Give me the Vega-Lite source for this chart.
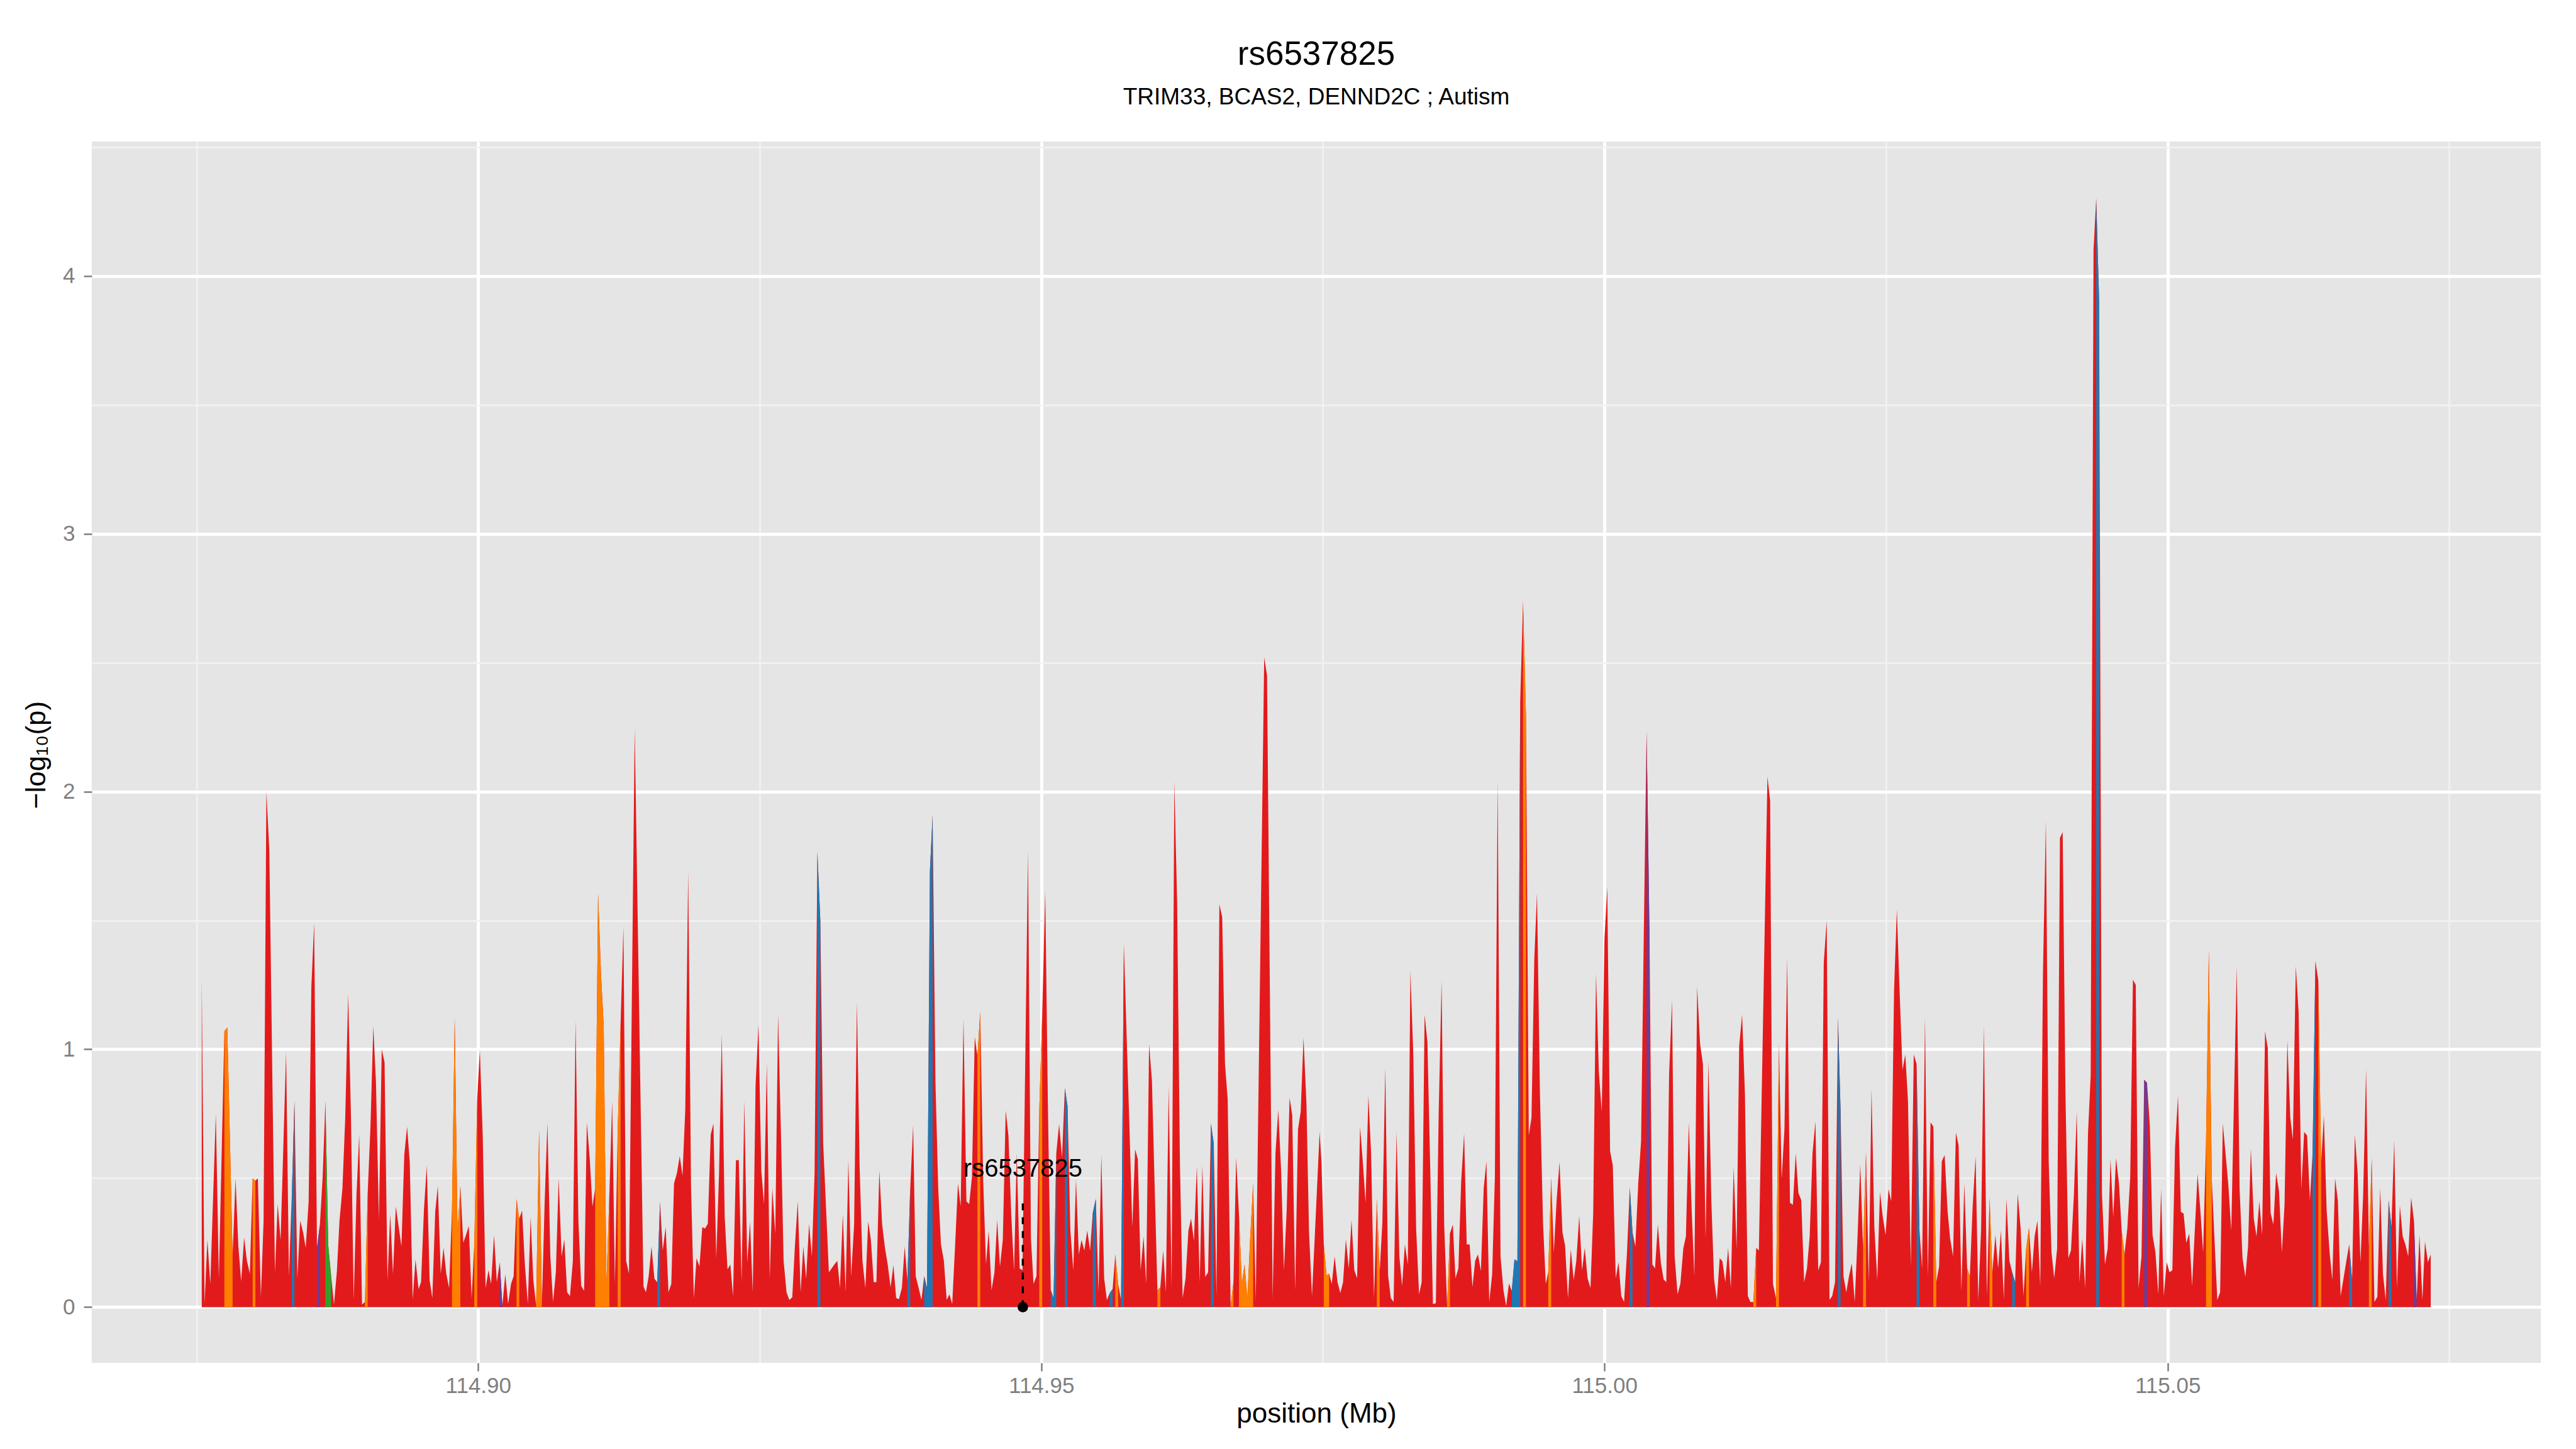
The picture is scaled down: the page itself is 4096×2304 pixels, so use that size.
{
"$schema": "https://vega.github.io/schema/vega-lite/v6.json",
"width": 3894, "height": 1942,
"autosize": {"type": "none"},
"padding": {"left": 146, "top": 225, "right": 56, "bottom": 137},
"background": "white",
"config": {"view": {"fill": "#E5E5E5", "stroke": null}, "font": "Liberation Sans"},
"title": {"text": "rs6537825", "subtitle": "TRIM33, BCAS2, DENND2C ; Autism", "fontSize": 53, "fontWeight": "normal", "color": "black", "subtitleFontSize": 37, "subtitleColor": "black", "subtitleFont": "Liberation Sans", "font": "Liberation Sans", "anchor": "middle", "offset": 52, "subtitlePadding": 23},
"datasets": {
"snp": [
{"pos":114.87546,"y":1.27},{"pos":114.87571,"y":0.015},{"pos":114.87596,"y":0.26},{"pos":114.87622,"y":0.09},{"pos":114.87671,"y":0.75},{"pos":114.87698,"y":0.11},{"pos":114.87747,"y":1.07},{"pos":114.87773,"y":1.085},{"pos":114.8782,"y":0.2},{"pos":114.87846,"y":0.5},{"pos":114.87871,"y":0.235},{"pos":114.87896,"y":0.1},{"pos":114.87922,"y":0.27},{"pos":114.87947,"y":0.18},{"pos":114.87973,"y":0.13},{"pos":114.87998,"y":0.5},{"pos":114.88022,"y":0.49},{"pos":114.88044,"y":0.5},{"pos":114.88071,"y":0.04},{"pos":114.88095,"y":0.335},{"pos":114.8812,"y":2.0},{"pos":114.88146,"y":1.77},{"pos":114.88196,"y":0.135},{"pos":114.8822,"y":0.4},{"pos":114.88246,"y":0.26},{"pos":114.88295,"y":0.99},{"pos":114.8832,"y":0.12},{"pos":114.88346,"y":0.44},{"pos":114.88369,"y":0.8},{"pos":114.88395,"y":0.11},{"pos":114.8842,"y":0.335},{"pos":114.88446,"y":0.29},{"pos":114.88469,"y":0.23},{"pos":114.88495,"y":0.41},{"pos":114.88519,"y":1.24},{"pos":114.88544,"y":1.49},{"pos":114.88569,"y":0.23},{"pos":114.88595,"y":0.32},{"pos":114.88619,"y":0.5},{"pos":114.88644,"y":0.8},{"pos":114.88669,"y":0.24},{"pos":114.88695,"y":0.12},{"pos":114.8872,"y":0.01},{"pos":114.88746,"y":0.14},{"pos":114.88769,"y":0.335},{"pos":114.88795,"y":0.46},{"pos":114.8882,"y":0.735},{"pos":114.88846,"y":1.215},{"pos":114.88871,"y":0.735},{"pos":114.88895,"y":0.03},{"pos":114.8892,"y":0.435},{"pos":114.88944,"y":0.67},{"pos":114.88969,"y":0.01},{"pos":114.88995,"y":0.02},{"pos":114.89019,"y":0.44},{"pos":114.89044,"y":0.7},{"pos":114.89069,"y":1.09},{"pos":114.89093,"y":0.87},{"pos":114.89119,"y":0.34},{"pos":114.89144,"y":1.0},{"pos":114.89169,"y":0.95},{"pos":114.89195,"y":0.105},{"pos":114.89219,"y":0.36},{"pos":114.89244,"y":0.13},{"pos":114.89269,"y":0.39},{"pos":114.89319,"y":0.235},{"pos":114.89344,"y":0.59},{"pos":114.89369,"y":0.7},{"pos":114.89393,"y":0.56},{"pos":114.89419,"y":0.03},{"pos":114.89444,"y":0.185},{"pos":114.89471,"y":0.07},
{"pos":114.89493,"y":0.097},{"pos":114.89519,"y":0.38},{"pos":114.89544,"y":0.55},{"pos":114.89569,"y":0.105},{"pos":114.89593,"y":0.035},{"pos":114.89619,"y":0.37},{"pos":114.89642,"y":0.47},{"pos":114.89668,"y":0.13},{"pos":114.89693,"y":0.23},{"pos":114.89717,"y":0.13},{"pos":114.89742,"y":0.074},{"pos":114.89768,"y":0.38},{"pos":114.89792,"y":1.12},{"pos":114.89817,"y":0.29},{"pos":114.89842,"y":0.47},{"pos":114.89868,"y":0.25},{"pos":114.89892,"y":0.28},{"pos":114.89917,"y":0.315},{"pos":114.89942,"y":0.035},{"pos":114.89966,"y":0.25},{"pos":114.89992,"y":0.81},{"pos":114.90015,"y":1.0},{"pos":114.90041,"y":0.66},{"pos":114.90066,"y":0.074},{"pos":114.90092,"y":0.143},{"pos":114.90115,"y":0.09},{"pos":114.90141,"y":0.28},{"pos":114.90166,"y":0.097},{"pos":114.90192,"y":0.174},{"pos":114.90215,"y":0.005},{"pos":114.90241,"y":0.128},{"pos":114.90266,"y":0.012},{"pos":114.90292,"y":0.09},{"pos":114.90315,"y":0.12},{"pos":114.90341,"y":0.42},{"pos":114.90365,"y":0.343},{"pos":114.9039,"y":0.374},{"pos":114.90415,"y":0.166},{"pos":114.90441,"y":0.012},{"pos":114.90466,"y":0.35},{"pos":114.9049,"y":0.105},{"pos":114.90515,"y":0.005},{"pos":114.90541,"y":0.686},{"pos":114.90566,"y":0.012},{"pos":114.9059,"y":0.4},{"pos":114.90615,"y":0.715},{"pos":114.90641,"y":0.197},{"pos":114.90665,"y":0.02},{"pos":114.9069,"y":0.135},{"pos":114.90715,"y":0.5},{"pos":114.90741,"y":0.197},{"pos":114.90765,"y":0.263},{"pos":114.9079,"y":0.058},{"pos":114.90815,"y":0.043},{"pos":114.90841,"y":0.18},{"pos":114.90865,"y":1.112},{"pos":114.9089,"y":0.335},{"pos":114.90915,"y":0.082},{"pos":114.90941,"y":0.063},{"pos":114.90965,"y":0.717},{"pos":114.9099,"y":0.58},{"pos":114.91015,"y":0.39},{"pos":114.91039,"y":0.46},{"pos":114.91065,"y":1.605},{"pos":114.9109,"y":1.3},{"pos":114.91115,"y":1.09},{"pos":114.91139,"y":0.09},{"pos":114.91165,"y":0.435},{"pos":114.9119,"y":0.8},{"pos":114.91214,"y":0.09},{"pos":114.91239,"y":0.686},{"pos":114.91265,"y":1.105},{"pos":114.9129,"y":1.474},{"pos":114.91314,"y":0.18},{"pos":114.91339,"y":0.13},{"pos":114.9139,"y":2.246},{"pos":114.91468,"y":0.08},
{"pos":114.9149,"y":0.058},{"pos":114.91514,"y":0.12},{"pos":114.91539,"y":0.235},{"pos":114.91565,"y":0.11},{"pos":114.9159,"y":0.097},{"pos":114.91615,"y":0.41},{"pos":114.91639,"y":0.22},{"pos":114.91665,"y":0.31},{"pos":114.9169,"y":0.058},{"pos":114.91715,"y":0.09},{"pos":114.91739,"y":0.48},{"pos":114.91765,"y":0.52},{"pos":114.9179,"y":0.586},{"pos":114.91814,"y":0.51},{"pos":114.91839,"y":0.766},{"pos":114.91865,"y":1.69},{"pos":114.9189,"y":0.47},{"pos":114.91915,"y":0.035},{"pos":114.91939,"y":0.19},{"pos":114.91965,"y":0.158},{"pos":114.9199,"y":0.31},{"pos":114.92014,"y":0.305},{"pos":114.92039,"y":0.323},{"pos":114.92065,"y":0.67},{"pos":114.92089,"y":0.712},{"pos":114.92114,"y":0.19},{"pos":114.92139,"y":0.52},{"pos":114.92163,"y":1.058},{"pos":114.92189,"y":0.35},{"pos":114.92214,"y":0.146},{"pos":114.92239,"y":0.166},{"pos":114.92263,"y":0.043},{"pos":114.92289,"y":0.57},{"pos":114.92314,"y":0.57},{"pos":114.92339,"y":0.097},{"pos":114.92363,"y":0.8},{"pos":114.92389,"y":0.174},{"pos":114.92414,"y":0.33},{"pos":114.92438,"y":0.058},{"pos":114.92463,"y":0.86},{"pos":114.92489,"y":1.097},{"pos":114.92514,"y":0.53},{"pos":114.92538,"y":0.4},{"pos":114.92563,"y":0.946},{"pos":114.92589,"y":0.11},{"pos":114.92612,"y":0.46},{"pos":114.92638,"y":0.286},{"pos":114.92663,"y":1.135},{"pos":114.92689,"y":0.66},{"pos":114.92712,"y":0.18},{"pos":114.92738,"y":0.058},{"pos":114.92763,"y":0.028},{"pos":114.92789,"y":0.038},{"pos":114.92812,"y":0.235},{"pos":114.92838,"y":0.41},{"pos":114.92863,"y":0.058},{"pos":114.92887,"y":0.235},{"pos":114.92912,"y":0.11},{"pos":114.92938,"y":0.323},{"pos":114.92963,"y":0.197},{"pos":114.92987,"y":0.52},{"pos":114.93012,"y":1.766},{"pos":114.93038,"y":1.5},{"pos":114.93063,"y":0.64},{"pos":114.93114,"y":0.135},{"pos":114.93138,"y":0.15},{"pos":114.93163,"y":0.166},{"pos":114.93189,"y":0.18},{"pos":114.93212,"y":0.074},{"pos":114.93238,"y":0.36},{"pos":114.93263,"y":0.058},{"pos":114.93287,"y":0.57},{"pos":114.93312,"y":0.12},{"pos":114.93338,"y":0.32},{"pos":114.93363,"y":1.185},{"pos":114.93387,"y":0.543},{"pos":114.93412,"y":0.18},{"pos":114.93438,"y":0.074},{"pos":114.93463,"y":0.332},
{"pos":114.93487,"y":0.26},{"pos":114.93512,"y":0.097},{"pos":114.93536,"y":0.097},{"pos":114.93562,"y":0.53},{"pos":114.93587,"y":0.32},{"pos":114.93612,"y":0.23},{"pos":114.93636,"y":0.166},{"pos":114.93662,"y":0.077},{"pos":114.93687,"y":0.163},{"pos":114.93711,"y":0.035},{"pos":114.93736,"y":0.031},{"pos":114.93762,"y":0.074},{"pos":114.93787,"y":0.235},{"pos":114.93811,"y":0.105},{"pos":114.93836,"y":0.458},{"pos":114.93862,"y":0.705},{"pos":114.93885,"y":0.12},{"pos":114.93911,"y":0.074},{"pos":114.93936,"y":0.028},{"pos":114.9396,"y":0.12},{"pos":114.93985,"y":0.074},{"pos":114.94011,"y":1.69},{"pos":114.94035,"y":1.91},{"pos":114.9406,"y":0.874},{"pos":114.94085,"y":0.458},{"pos":114.94109,"y":0.243},{"pos":114.94135,"y":0.18},{"pos":114.9416,"y":0.028},{"pos":114.94184,"y":0.05},{"pos":114.94209,"y":0.012},{"pos":114.94235,"y":0.243},{"pos":114.9426,"y":0.48},{"pos":114.94284,"y":0.39},{"pos":114.94309,"y":1.12},{"pos":114.94335,"y":0.41},{"pos":114.9436,"y":0.4},{"pos":114.94384,"y":0.505},{"pos":114.94409,"y":1.048},{"pos":114.94433,"y":0.974},{"pos":114.94458,"y":1.146},{"pos":114.94484,"y":0.49},{"pos":114.94509,"y":0.166},{"pos":114.94533,"y":0.297},{"pos":114.94558,"y":0.066},{"pos":114.94584,"y":0.135},{"pos":114.94608,"y":0.338},{"pos":114.94633,"y":0.158},{"pos":114.94658,"y":0.26},{"pos":114.94684,"y":0.763},{"pos":114.94708,"y":0.666},{"pos":114.94733,"y":0.36},{"pos":114.94758,"y":0.143},{"pos":114.94782,"y":0.597},{"pos":114.94808,"y":0.15},{"pos":114.94833,"y":0.143},{"pos":114.94882,"y":1.77},{"pos":114.94908,"y":0.266},{"pos":114.94931,"y":0.09},{"pos":114.94957,"y":0.12},{"pos":114.94982,"y":0.766},{"pos":114.95008,"y":1.135},{"pos":114.95035,"y":1.612},{"pos":114.95058,"y":0.8},{"pos":114.95084,"y":0.066},{"pos":114.95109,"y":0.035},{"pos":114.95133,"y":0.597},{"pos":114.95158,"y":0.71},{"pos":114.95184,"y":0.58},{"pos":114.95209,"y":0.85},{"pos":114.95233,"y":0.78},{"pos":114.95258,"y":0.297},{"pos":114.95284,"y":0.143},{"pos":114.95308,"y":0.497},{"pos":114.95333,"y":0.205},{"pos":114.95357,"y":0.26},{"pos":114.95382,"y":0.22},{"pos":114.95408,"y":0.297},{"pos":114.95433,"y":0.22},{"pos":114.95457,"y":0.366},
{"pos":114.95484,"y":0.42},{"pos":114.95508,"y":0.058},{"pos":114.95533,"y":0.59},{"pos":114.95558,"y":0.112},{"pos":114.95582,"y":0.028},{"pos":114.95608,"y":0.055},{"pos":114.95633,"y":0.07},{"pos":114.95657,"y":0.205},{"pos":114.95682,"y":0.09},{"pos":114.95708,"y":0.028},{"pos":114.95733,"y":1.41},{"pos":114.95757,"y":1.058},{"pos":114.95782,"y":0.705},{"pos":114.95808,"y":0.312},{"pos":114.95833,"y":0.612},{"pos":114.95857,"y":0.574},{"pos":114.95882,"y":0.143},{"pos":114.95908,"y":0.274},{"pos":114.95931,"y":0.09},{"pos":114.95957,"y":1.02},{"pos":114.95982,"y":0.88},{"pos":114.96008,"y":0.443},{"pos":114.96031,"y":0.066},{"pos":114.96057,"y":0.077},{"pos":114.96082,"y":0.22},{"pos":114.96106,"y":0.058},{"pos":114.96131,"y":0.858},{"pos":114.96157,"y":0.077},{"pos":114.96181,"y":2.04},{"pos":114.96206,"y":1.566},{"pos":114.96231,"y":0.55},{"pos":114.96255,"y":0.035},{"pos":114.96281,"y":0.112},{"pos":114.96306,"y":0.297},{"pos":114.9633,"y":0.343},{"pos":114.96355,"y":0.258},{"pos":114.96381,"y":0.546},{"pos":114.96406,"y":0.097},{"pos":114.9643,"y":0.55},{"pos":114.96455,"y":0.117},{"pos":114.96481,"y":0.135},{"pos":114.96506,"y":0.712},{"pos":114.96531,"y":0.635},{"pos":114.96555,"y":0.043},{"pos":114.96581,"y":1.563},{"pos":114.96606,"y":1.512},{"pos":114.96631,"y":0.943},{"pos":114.96655,"y":0.805},{"pos":114.96681,"y":0.005},{"pos":114.96706,"y":0.097},{"pos":114.9673,"y":0.58},{"pos":114.96755,"y":0.358},{"pos":114.96781,"y":0.09},{"pos":114.96804,"y":0.166},{"pos":114.9683,"y":0.035},{"pos":114.96855,"y":0.274},{"pos":114.96881,"y":0.48},{"pos":114.96904,"y":0.028},{"pos":114.96979,"y":2.52},{"pos":114.97004,"y":2.45},{"pos":114.97054,"y":0.035},{"pos":114.97079,"y":0.597},{"pos":114.97104,"y":0.766},{"pos":114.9713,"y":0.52},{"pos":114.97154,"y":0.143},{"pos":114.97179,"y":0.38},{"pos":114.97204,"y":0.812},{"pos":114.97228,"y":0.743},{"pos":114.97254,"y":0.066},{"pos":114.97279,"y":0.69},{"pos":114.97303,"y":0.758},{"pos":114.97328,"y":1.046},{"pos":114.97354,"y":0.79},{"pos":114.97377,"y":0.29},{"pos":114.97403,"y":0.043},{"pos":114.97428,"y":0.274},
{"pos":114.97471,"y":0.68},{"pos":114.97487,"y":0.566},{"pos":114.97508,"y":0.243},{"pos":114.97533,"y":0.123},{"pos":114.97555,"y":0.13},{"pos":114.97579,"y":0.09},{"pos":114.97604,"y":0.197},{"pos":114.9763,"y":0.097},{"pos":114.97655,"y":0.055},{"pos":114.97679,"y":0.097},{"pos":114.97704,"y":0.263},{"pos":114.9773,"y":0.15},{"pos":114.97754,"y":0.338},{"pos":114.97779,"y":0.143},{"pos":114.97804,"y":0.112},{"pos":114.9783,"y":0.7},{"pos":114.97854,"y":0.566},{"pos":114.97879,"y":0.405},{"pos":114.97904,"y":0.82},{"pos":114.97928,"y":0.597},{"pos":114.97954,"y":0.035},{"pos":114.97979,"y":0.42},{"pos":114.98004,"y":0.135},{"pos":114.98028,"y":0.328},{"pos":114.98054,"y":0.93},{"pos":114.98079,"y":0.123},{"pos":114.98103,"y":0.035},{"pos":114.98128,"y":0.02},{"pos":114.98154,"y":0.68},{"pos":114.98179,"y":0.197},{"pos":114.98203,"y":0.082},{"pos":114.98228,"y":0.243},{"pos":114.98254,"y":0.166},{"pos":114.98277,"y":1.305},{"pos":114.98303,"y":0.974},{"pos":114.98328,"y":0.305},{"pos":114.98354,"y":0.05},{"pos":114.98377,"y":0.097},{"pos":114.98403,"y":1.135},{"pos":114.98428,"y":1.028},{"pos":114.98454,"y":0.52},{"pos":114.98477,"y":0.012},{"pos":114.98503,"y":0.015},{"pos":114.98528,"y":0.75},{"pos":114.98554,"y":1.266},{"pos":114.98577,"y":0.32},{"pos":114.98603,"y":0.005},{"pos":114.98628,"y":0.286},{"pos":114.98654,"y":0.32},{"pos":114.98677,"y":0.112},{"pos":114.98703,"y":0.15},{"pos":114.98728,"y":0.49},{"pos":114.98754,"y":0.674},{"pos":114.98777,"y":0.243},{"pos":114.98803,"y":0.243},{"pos":114.98828,"y":0.078},{"pos":114.98852,"y":0.18},{"pos":114.98877,"y":0.205},{"pos":114.98903,"y":0.14},{"pos":114.98928,"y":0.463},{"pos":114.98952,"y":0.566},{"pos":114.98977,"y":0.02},{"pos":114.99003,"y":0.128},{"pos":114.99027,"y":0.505},{"pos":114.99052,"y":2.046},{"pos":114.99077,"y":0.197},{"pos":114.99103,"y":0.066},{"pos":114.99127,"y":0.005},{"pos":114.99152,"y":0.092},{"pos":114.99177,"y":0.063},{"pos":114.99201,"y":0.186},{"pos":114.99227,"y":0.178},{"pos":114.99252,"y":2.35},{"pos":114.99277,"y":2.74},{"pos":114.99303,"y":2.3},{"pos":114.99328,"y":0.666},{"pos":114.99352,"y":0.735},{"pos":114.99377,"y":1.35},{"pos":114.99401,"y":1.605},{"pos":114.99427,"y":0.83},{"pos":114.99455,"y":0.32},
{"pos":114.99479,"y":0.09},{"pos":114.99501,"y":0.135},{"pos":114.99527,"y":0.505},{"pos":114.9955,"y":0.212},{"pos":114.99576,"y":0.42},{"pos":114.99601,"y":0.563},{"pos":114.99627,"y":0.29},{"pos":114.9965,"y":0.24},{"pos":114.99676,"y":0.035},{"pos":114.99701,"y":0.225},{"pos":114.99727,"y":0.105},{"pos":114.9975,"y":0.18},{"pos":114.99776,"y":0.354},{"pos":114.99801,"y":0.143},{"pos":114.99825,"y":0.23},{"pos":114.9985,"y":0.112},{"pos":114.99876,"y":0.074},{"pos":114.999,"y":0.366},{"pos":114.99925,"y":1.294},{"pos":114.9995,"y":0.912},{"pos":114.99976,"y":0.758},{"pos":115.0,"y":1.428},{"pos":115.00025,"y":1.63},{"pos":115.0005,"y":0.605},{"pos":115.00074,"y":0.55},{"pos":115.001,"y":0.112},{"pos":115.00125,"y":0.174},{"pos":115.00149,"y":0.043},{"pos":115.00174,"y":0.02},{"pos":115.002,"y":0.212},{"pos":115.00225,"y":0.466},{"pos":115.00249,"y":0.29},{"pos":115.00274,"y":0.235},{"pos":115.003,"y":0.48},{"pos":115.00325,"y":0.643},{"pos":115.00349,"y":1.44},{"pos":115.00374,"y":2.235},{"pos":115.004,"y":1.44},{"pos":115.00425,"y":0.166},{"pos":115.00449,"y":0.15},{"pos":115.00474,"y":0.32},{"pos":115.005,"y":0.174},{"pos":115.00525,"y":0.108},{"pos":115.00549,"y":0.097},{"pos":115.00574,"y":0.905},{"pos":115.006,"y":1.19},{"pos":115.00623,"y":0.197},{"pos":115.00649,"y":0.05},{"pos":115.00674,"y":0.09},{"pos":115.007,"y":0.228},{"pos":115.00723,"y":0.274},{"pos":115.00749,"y":0.717},{"pos":115.00774,"y":0.38},{"pos":115.00798,"y":0.12},{"pos":115.00823,"y":1.243},{"pos":115.00849,"y":1.02},{"pos":115.00874,"y":0.943},{"pos":115.00898,"y":0.266},{"pos":115.00923,"y":0.958},{"pos":115.00949,"y":0.41},{"pos":115.00973,"y":0.108},{"pos":115.00998,"y":0.028},{"pos":115.01023,"y":0.19},{"pos":115.01047,"y":0.178},{"pos":115.01073,"y":0.097},{"pos":115.01098,"y":0.23},{"pos":115.01122,"y":0.074},{"pos":115.01147,"y":0.543},{"pos":115.01173,"y":0.225},{"pos":115.01196,"y":1.012},{"pos":115.01222,"y":1.135},{"pos":115.01247,"y":0.828},{"pos":115.01273,"y":0.043},{"pos":115.01296,"y":0.02},{"pos":115.01322,"y":0.02},{"pos":115.01347,"y":0.23},{"pos":115.01371,"y":0.22},{"pos":115.01447,"y":2.058},{"pos":115.01471,"y":1.963},
{"pos":115.01496,"y":0.09},{"pos":115.01523,"y":0.035},{"pos":115.01549,"y":1.02},{"pos":115.01573,"y":0.497},{"pos":115.01598,"y":0.69},{"pos":115.01622,"y":1.354},{"pos":115.01647,"y":0.405},{"pos":115.01673,"y":0.397},{"pos":115.01698,"y":0.597},{"pos":115.01722,"y":0.443},{"pos":115.01747,"y":0.415},{"pos":115.01773,"y":0.097},{"pos":115.01798,"y":0.15},{"pos":115.01822,"y":0.274},{"pos":115.01847,"y":0.597},{"pos":115.01873,"y":0.72},{"pos":115.01898,"y":0.143},{"pos":115.01922,"y":0.174},{"pos":115.01947,"y":1.335},{"pos":115.01973,"y":1.5},{"pos":115.01998,"y":0.028},{"pos":115.02022,"y":0.043},{"pos":115.02047,"y":0.097},{"pos":115.02073,"y":1.123},{"pos":115.02096,"y":0.766},{"pos":115.02122,"y":0.12},{"pos":115.02147,"y":0.058},{"pos":115.02171,"y":0.12},{"pos":115.02196,"y":0.17},{"pos":115.02222,"y":0.02},{"pos":115.02247,"y":0.274},{"pos":115.02271,"y":0.554},{"pos":115.02296,"y":0.228},{"pos":115.02322,"y":0.6},{"pos":115.02347,"y":0.097},{"pos":115.02371,"y":0.846},{"pos":115.02396,"y":0.312},{"pos":115.02422,"y":0.105},{"pos":115.02446,"y":0.446},{"pos":115.02471,"y":0.35},{"pos":115.02496,"y":0.28},{"pos":115.02522,"y":0.458},{"pos":115.02546,"y":0.41},{"pos":115.02571,"y":1.228},{"pos":115.02596,"y":1.543},{"pos":115.0262,"y":1.228},{"pos":115.02646,"y":0.92},{"pos":115.02671,"y":0.98},{"pos":115.02695,"y":0.797},{"pos":115.0272,"y":0.158},{"pos":115.02746,"y":0.98},{"pos":115.02771,"y":0.943},{"pos":115.02796,"y":0.305},{"pos":115.0282,"y":0.15},{"pos":115.02846,"y":1.125},{"pos":115.02871,"y":0.12},{"pos":115.02895,"y":0.717},{"pos":115.0292,"y":0.7},{"pos":115.02946,"y":0.097},{"pos":115.02971,"y":0.158},{"pos":115.02995,"y":0.566},{"pos":115.0302,"y":0.59},{"pos":115.03046,"y":0.374},{"pos":115.03069,"y":0.266},{"pos":115.03095,"y":0.197},{"pos":115.0312,"y":0.677},{"pos":115.03144,"y":0.628},{"pos":115.03169,"y":0.063},{"pos":115.03195,"y":0.48},{"pos":115.0322,"y":0.15},{"pos":115.03244,"y":0.12},{"pos":115.03269,"y":0.39},{"pos":115.03295,"y":0.585},{"pos":115.03319,"y":0.028},{"pos":115.03344,"y":0.305},{"pos":115.03369,"y":1.092},{"pos":115.03395,"y":0.043},{"pos":115.03419,"y":0.425},{"pos":115.03444,"y":0.135},{"pos":115.03471,"y":0.28},
{"pos":115.03495,"y":0.15},{"pos":115.0352,"y":0.297},{"pos":115.03546,"y":0.031},{"pos":115.03569,"y":0.42},{"pos":115.03595,"y":0.18},{"pos":115.0362,"y":0.135},{"pos":115.03646,"y":0.097},{"pos":115.03669,"y":0.44},{"pos":115.03695,"y":0.305},{"pos":115.0372,"y":0.043},{"pos":115.03744,"y":0.228},{"pos":115.03769,"y":0.308},{"pos":115.03795,"y":0.135},{"pos":115.03819,"y":0.274},{"pos":115.03844,"y":0.335},{"pos":115.03869,"y":0.082},{"pos":115.03893,"y":1.29},{"pos":115.03919,"y":1.886},{"pos":115.03944,"y":0.566},{"pos":115.03969,"y":0.212},{"pos":115.03993,"y":0.112},{"pos":115.04019,"y":0.228},{"pos":115.04044,"y":1.82},{"pos":115.04068,"y":1.843},{"pos":115.04093,"y":0.828},{"pos":115.04119,"y":0.19},{"pos":115.04142,"y":0.22},{"pos":115.04168,"y":0.435},{"pos":115.04193,"y":0.758},{"pos":115.04217,"y":0.097},{"pos":115.04242,"y":0.266},{"pos":115.04268,"y":0.074},{"pos":115.04293,"y":0.674},{"pos":115.04317,"y":0.9},{"pos":115.04342,"y":4.1},{"pos":115.04366,"y":4.3},{"pos":115.04392,"y":3.9},{"pos":115.04417,"y":0.44},{"pos":115.04444,"y":0.166},{"pos":115.04468,"y":0.228},{"pos":115.04493,"y":0.574},{"pos":115.04517,"y":0.35},{"pos":115.04542,"y":0.578},{"pos":115.04568,"y":0.48},{"pos":115.04592,"y":0.297},{"pos":115.04617,"y":0.205},{"pos":115.04642,"y":0.305},{"pos":115.04668,"y":0.505},{"pos":115.04692,"y":1.27},{"pos":115.04717,"y":1.25},{"pos":115.04742,"y":0.074},{"pos":115.04768,"y":0.197},{"pos":115.04792,"y":0.882},{"pos":115.04817,"y":0.87},{"pos":115.04842,"y":0.705},{"pos":115.04866,"y":0.28},{"pos":115.04892,"y":0.212},{"pos":115.04917,"y":0.05},{"pos":115.04942,"y":0.458},{"pos":115.04966,"y":0.043},{"pos":115.04992,"y":0.174},{"pos":115.05017,"y":0.135},{"pos":115.05042,"y":0.143},{"pos":115.05066,"y":0.62},{"pos":115.05092,"y":0.82},{"pos":115.05117,"y":0.37},{"pos":115.05142,"y":0.363},{"pos":115.05166,"y":0.25},{"pos":115.05192,"y":0.286},{"pos":115.05217,"y":0.082},{"pos":115.05241,"y":0.297},{"pos":115.05266,"y":0.517},{"pos":115.05292,"y":0.366},{"pos":115.05315,"y":0.212},{"pos":115.05341,"y":0.643},{"pos":115.05366,"y":1.385},{"pos":115.05392,"y":0.497},{"pos":115.05415,"y":0.274},{"pos":115.05441,"y":0.028},{"pos":115.05466,"y":0.058},
{"pos":115.0549,"y":0.712},{"pos":115.05514,"y":0.597},{"pos":115.05539,"y":0.474},{"pos":115.05565,"y":0.297},{"pos":115.0559,"y":0.828},{"pos":115.05614,"y":1.32},{"pos":115.05639,"y":0.458},{"pos":115.05665,"y":0.19},{"pos":115.0569,"y":0.117},{"pos":115.05714,"y":0.235},{"pos":115.05739,"y":0.615},{"pos":115.05765,"y":0.343},{"pos":115.05789,"y":0.274},{"pos":115.05814,"y":0.41},{"pos":115.05839,"y":0.28},{"pos":115.05865,"y":1.07},{"pos":115.05889,"y":1.005},{"pos":115.05914,"y":0.366},{"pos":115.05939,"y":0.32},{"pos":115.05963,"y":0.52},{"pos":115.05989,"y":0.45},{"pos":115.06014,"y":0.212},{"pos":115.06038,"y":0.397},{"pos":115.06063,"y":1.035},{"pos":115.06089,"y":0.735},{"pos":115.06112,"y":0.65},{"pos":115.06138,"y":1.323},{"pos":115.06163,"y":1.143},{"pos":115.06187,"y":0.458},{"pos":115.06212,"y":0.68},{"pos":115.06238,"y":0.666},{"pos":115.06263,"y":0.415},{"pos":115.06287,"y":0.597},{"pos":115.06312,"y":1.343},{"pos":115.06338,"y":1.266},{"pos":115.06363,"y":0.558},{"pos":115.06387,"y":0.743},{"pos":115.06412,"y":0.374},{"pos":115.06438,"y":0.212},{"pos":115.06462,"y":0.105},{"pos":115.06487,"y":0.5},{"pos":115.06512,"y":0.41},{"pos":115.06536,"y":0.043},{"pos":115.06562,"y":0.112},{"pos":115.06587,"y":0.18},{"pos":115.06612,"y":0.243},{"pos":115.06638,"y":0.105},{"pos":115.06662,"y":0.67},{"pos":115.06687,"y":0.52},{"pos":115.06712,"y":0.174},{"pos":115.06736,"y":0.435},{"pos":115.06762,"y":0.923},{"pos":115.06787,"y":0.235},{"pos":115.06812,"y":0.578},{"pos":115.06836,"y":0.02},{"pos":115.06862,"y":0.04},{"pos":115.06887,"y":0.463},{"pos":115.06912,"y":0.128},{"pos":115.06936,"y":0.028},{"pos":115.06962,"y":0.415},{"pos":115.06987,"y":0.312},{"pos":115.07012,"y":0.646},{"pos":115.07036,"y":0.074},{"pos":115.07062,"y":0.394},{"pos":115.07087,"y":0.274},{"pos":115.07111,"y":0.243},{"pos":115.07136,"y":0.197},{"pos":115.07162,"y":0.425},{"pos":115.07187,"y":0.335},{"pos":115.07211,"y":0.028},{"pos":115.07236,"y":0.28},{"pos":115.07262,"y":0.028},{"pos":115.07285,"y":0.255},{"pos":115.07311,"y":0.174},{"pos":115.07336,"y":0.205}
],
"bands": [
{"b":1,"ld":"orange","pos":114.87747,"y":1.07},{"b":1,"ld":"orange","pos":114.87773,"y":1.085},{"b":1,"ld":"orange","pos":114.8782,"y":0.2},
{"b":2,"ld":"orange","pos":114.87998,"y":0.5},{"b":2,"ld":"orange","pos":114.88022,"y":0.49},
{"b":3,"ld":"blue","pos":114.88346,"y":0.44},{"b":3,"ld":"blue","pos":114.88369,"y":0.8},
{"b":4,"ld":"purple","pos":114.88569,"y":0.23},{"b":4,"ld":"purple","pos":114.88595,"y":0.32},
{"b":5,"ld":"green","pos":114.88644,"y":0.8},{"b":5,"ld":"green","pos":114.88669,"y":0.24},{"b":5,"ld":"green","pos":114.88695,"y":0.12},
{"b":6,"ld":"orange","pos":114.88995,"y":0.02},{"b":6,"ld":"orange","pos":114.89019,"y":0.44},
{"b":7,"ld":"orange","pos":114.89768,"y":0.38},{"b":7,"ld":"orange","pos":114.89792,"y":1.12},{"b":7,"ld":"orange","pos":114.89817,"y":0.29},{"b":7,"ld":"orange","pos":114.89842,"y":0.47},
{"b":8,"ld":"orange","pos":114.89966,"y":0.25},{"b":8,"ld":"orange","pos":114.89992,"y":0.81},
{"b":9,"ld":"purple","pos":114.90192,"y":0.174},{"b":9,"ld":"purple","pos":114.90215,"y":0.005},
{"b":10,"ld":"orange","pos":114.90341,"y":0.42},{"b":10,"ld":"orange","pos":114.90365,"y":0.343},
{"b":11,"ld":"orange","pos":114.90515,"y":0.005},{"b":11,"ld":"orange","pos":114.90541,"y":0.686},{"b":11,"ld":"orange","pos":114.90566,"y":0.012},
{"b":12,"ld":"orange","pos":114.91039,"y":0.46},{"b":12,"ld":"orange","pos":114.91065,"y":1.605},{"b":12,"ld":"orange","pos":114.9109,"y":1.3},{"b":12,"ld":"orange","pos":114.91115,"y":1.09},{"b":12,"ld":"orange","pos":114.91139,"y":0.09},{"b":12,"ld":"orange","pos":114.91165,"y":0.435},
{"b":13,"ld":"orange","pos":114.91239,"y":0.686},{"b":13,"ld":"orange","pos":114.91265,"y":1.105},
{"b":14,"ld":"blue","pos":114.9159,"y":0.097},{"b":14,"ld":"blue","pos":114.91615,"y":0.41},
{"b":15,"ld":"blue","pos":114.93012,"y":1.766},{"b":15,"ld":"blue","pos":114.93038,"y":1.5},
{"b":16,"ld":"blue","pos":114.93811,"y":0.105},{"b":16,"ld":"blue","pos":114.93836,"y":0.458},
{"b":17,"ld":"blue","pos":114.9396,"y":0.12},{"b":17,"ld":"blue","pos":114.93985,"y":0.074},{"b":17,"ld":"blue","pos":114.94011,"y":1.69},{"b":17,"ld":"blue","pos":114.94035,"y":1.91},
{"b":18,"ld":"orange","pos":114.94433,"y":0.974},{"b":18,"ld":"orange","pos":114.94458,"y":1.146},
{"b":19,"ld":"orange","pos":114.94982,"y":0.766},{"b":19,"ld":"orange","pos":114.95008,"y":1.135},
{"b":20,"ld":"blue","pos":114.95084,"y":0.066},{"b":20,"ld":"blue","pos":114.95109,"y":0.035},{"b":20,"ld":"blue","pos":114.95133,"y":0.597},
{"b":21,"ld":"blue","pos":114.95209,"y":0.85},{"b":21,"ld":"blue","pos":114.95233,"y":0.78},
{"b":22,"ld":"blue","pos":114.95457,"y":0.366},{"b":22,"ld":"blue","pos":114.95484,"y":0.42},
{"b":23,"ld":"blue","pos":114.95608,"y":0.055},{"b":23,"ld":"blue","pos":114.95633,"y":0.07},
{"b":24,"ld":"orange","pos":114.95657,"y":0.205},{"b":24,"ld":"orange","pos":114.95682,"y":0.09},
{"b":25,"ld":"blue","pos":114.95708,"y":0.028},{"b":25,"ld":"blue","pos":114.95733,"y":1.41},
{"b":26,"ld":"orange","pos":114.96031,"y":0.066},{"b":26,"ld":"orange","pos":114.96057,"y":0.077},
{"b":27,"ld":"blue","pos":114.96506,"y":0.712},{"b":27,"ld":"blue","pos":114.96531,"y":0.635},
{"b":28,"ld":"orange","pos":114.96681,"y":0.005},{"b":28,"ld":"orange","pos":114.96706,"y":0.097},
{"b":29,"ld":"orange","pos":114.96755,"y":0.358},{"b":29,"ld":"orange","pos":114.96781,"y":0.09},{"b":29,"ld":"orange","pos":114.96804,"y":0.166},{"b":29,"ld":"orange","pos":114.9683,"y":0.035},{"b":29,"ld":"orange","pos":114.96855,"y":0.274},{"b":29,"ld":"orange","pos":114.96881,"y":0.48},
{"b":30,"ld":"orange","pos":114.97508,"y":0.243},{"b":30,"ld":"orange","pos":114.97533,"y":0.123},{"b":30,"ld":"orange","pos":114.97555,"y":0.13},
{"b":31,"ld":"orange","pos":114.97979,"y":0.42},{"b":31,"ld":"orange","pos":114.98004,"y":0.135},
{"b":32,"ld":"orange","pos":114.98603,"y":0.005},{"b":32,"ld":"orange","pos":114.98628,"y":0.286},
{"b":33,"ld":"blue","pos":114.99177,"y":0.063},{"b":33,"ld":"blue","pos":114.99201,"y":0.186},{"b":33,"ld":"blue","pos":114.99227,"y":0.178},{"b":33,"ld":"blue","pos":114.99252,"y":2.35},
{"b":34,"ld":"orange","pos":114.99277,"y":2.74},{"b":34,"ld":"orange","pos":114.99303,"y":2.3},
{"b":35,"ld":"orange","pos":114.99501,"y":0.135},{"b":35,"ld":"orange","pos":114.99527,"y":0.505},
{"b":36,"ld":"blue","pos":115.00225,"y":0.466},{"b":36,"ld":"blue","pos":115.00249,"y":0.29},
{"b":37,"ld":"purple","pos":115.00374,"y":2.235},{"b":37,"ld":"purple","pos":115.004,"y":1.44},
{"b":38,"ld":"orange","pos":115.01322,"y":0.02},{"b":38,"ld":"orange","pos":115.01347,"y":0.23},
{"b":39,"ld":"orange","pos":115.01523,"y":0.035},{"b":39,"ld":"orange","pos":115.01549,"y":1.02},
{"b":40,"ld":"blue","pos":115.02073,"y":1.123},{"b":40,"ld":"blue","pos":115.02096,"y":0.766},
{"b":41,"ld":"orange","pos":115.02296,"y":0.228},{"b":41,"ld":"orange","pos":115.02322,"y":0.6},
{"b":42,"ld":"blue","pos":115.02771,"y":0.943},{"b":42,"ld":"blue","pos":115.02796,"y":0.305},
{"b":43,"ld":"orange","pos":115.0292,"y":0.7},{"b":43,"ld":"orange","pos":115.02946,"y":0.097},
{"b":44,"ld":"orange","pos":115.0322,"y":0.15},{"b":44,"ld":"orange","pos":115.03244,"y":0.12},
{"b":45,"ld":"orange","pos":115.03419,"y":0.425},{"b":45,"ld":"orange","pos":115.03444,"y":0.135},
{"b":46,"ld":"blue","pos":115.0362,"y":0.135},{"b":46,"ld":"blue","pos":115.03646,"y":0.097},
{"b":47,"ld":"orange","pos":115.03744,"y":0.228},{"b":47,"ld":"orange","pos":115.03769,"y":0.308},
{"b":48,"ld":"blue","pos":115.04366,"y":4.3},{"b":48,"ld":"blue","pos":115.04392,"y":3.9},
{"b":49,"ld":"orange","pos":115.04592,"y":0.297},{"b":49,"ld":"orange","pos":115.04617,"y":0.205},
{"b":50,"ld":"purple","pos":115.04792,"y":0.882},{"b":50,"ld":"purple","pos":115.04817,"y":0.87},
{"b":51,"ld":"orange","pos":115.05341,"y":0.643},{"b":51,"ld":"orange","pos":115.05366,"y":1.385},{"b":51,"ld":"orange","pos":115.05392,"y":0.497},
{"b":52,"ld":"blue","pos":115.06287,"y":0.597},{"b":52,"ld":"blue","pos":115.06312,"y":1.343},
{"b":53,"ld":"orange","pos":115.06338,"y":1.266},{"b":53,"ld":"orange","pos":115.06363,"y":0.558},
{"b":54,"ld":"blue","pos":115.06612,"y":0.243},{"b":54,"ld":"blue","pos":115.06638,"y":0.105},
{"b":55,"ld":"orange","pos":115.06787,"y":0.235},{"b":55,"ld":"orange","pos":115.06812,"y":0.578},
{"b":56,"ld":"blue","pos":115.06962,"y":0.415},{"b":56,"ld":"blue","pos":115.06987,"y":0.312},
{"b":57,"ld":"purple","pos":115.07187,"y":0.335},{"b":57,"ld":"purple","pos":115.07211,"y":0.028}
],
"index": [{"pos":114.94836,"y":0,"top":0.425,"ly":0.535,"label":"rs6537825"}]
},
"layer": [
{"data": {"name": "snp"},
 "mark": {"type": "area", "color": "#E31A1C", "interpolate": "linear"},
 "encoding": {
  "x": {"field": "pos", "type": "quantitative", "scale": {"domain": [114.8657, 115.08313], "nice": false, "zero": false},
   "axis": {"title": "position (Mb)", "values": [114.9, 114.95, 115.0, 115.05], "format": ".2f", "grid": true, "gridColor": "white", "gridWidth": 5, "domain": false, "ticks": true, "tickColor": "#7F7F7F", "tickWidth": 2.5, "tickSize": 13, "labelFontSize": 35, "labelColor": "#7F7F7F", "labelPadding": 6, "labelFont": "Liberation Sans", "titleFont": "Liberation Sans", "titleFontSize": 44, "titleFontWeight": "normal", "titleColor": "black", "titleBaseline": "middle", "titleY": 81}},
  "y": {"field": "y", "type": "quantitative", "stack": null, "scale": {"domain": [-0.216, 4.521], "nice": false, "zero": false},
   "axis": {"title": "−log₁₀(p)", "values": [0, 1, 2, 3, 4], "grid": true, "gridColor": "white", "gridWidth": 5, "domain": false, "ticks": true, "tickColor": "#7F7F7F", "tickWidth": 2.5, "tickSize": 13, "labelFontSize": 35, "labelColor": "#7F7F7F", "labelPadding": 14, "labelFont": "Liberation Sans", "titleFont": "Liberation Sans", "titleFontSize": 44, "titleFontWeight": "normal", "titleColor": "black", "titleAngle": -90, "titleBaseline": "middle", "titleX": -88, "titleY": 975}},
  "y2": {"datum": 0}
 }},
{"data": {"name": "bands"},
 "mark": {"type": "area", "interpolate": "linear"},
 "encoding": {
  "x": {"field": "pos", "type": "quantitative", "scale": {"domain": [114.8657, 115.08313], "nice": false, "zero": false},
   "axis": {"title": null, "values": [114.875, 114.925, 114.975, 115.025, 115.075], "grid": true, "gridColor": "#F2F2F2", "gridWidth": 2.5, "labels": false, "ticks": false, "domain": false}},
  "y": {"field": "y", "type": "quantitative", "stack": null, "scale": {"domain": [-0.216, 4.521], "nice": false, "zero": false},
   "axis": {"title": null, "values": [0.5, 1.5, 2.5, 3.5, 4.5], "grid": true, "gridColor": "#F2F2F2", "gridWidth": 2.5, "labels": false, "ticks": false, "domain": false}},
  "y2": {"datum": 0},
  "detail": {"field": "b", "type": "nominal"},
  "color": {"field": "ld", "type": "nominal", "scale": {"domain": ["orange", "blue", "purple", "green"], "range": ["#FF7F00", "#1F78B4", "#6A3D9A", "#33A02C"]}, "legend": null}
 }},
{"data": {"name": "index"},
 "mark": {"type": "rule", "color": "black", "strokeWidth": 3.4, "strokeDash": [11, 11]},
 "encoding": {
  "x": {"field": "pos", "type": "quantitative", "scale": {"domain": [114.8657, 115.08313], "nice": false, "zero": false}, "axis": null},
  "y": {"field": "y", "type": "quantitative", "scale": {"domain": [-0.216, 4.521], "nice": false, "zero": false}, "axis": null},
  "y2": {"field": "top"}
 }},
{"data": {"name": "index"},
 "mark": {"type": "point", "filled": true, "color": "black", "size": 280, "opacity": 1},
 "encoding": {
  "x": {"field": "pos", "type": "quantitative", "scale": {"domain": [114.8657, 115.08313], "nice": false, "zero": false}, "axis": null},
  "y": {"field": "y", "type": "quantitative", "scale": {"domain": [-0.216, 4.521], "nice": false, "zero": false}, "axis": null}
 }},
{"data": {"name": "index"},
 "mark": {"type": "text", "fontSize": 40, "font": "Liberation Sans", "color": "black", "align": "center", "baseline": "middle"},
 "encoding": {
  "x": {"field": "pos", "type": "quantitative", "scale": {"domain": [114.8657, 115.08313], "nice": false, "zero": false}, "axis": null},
  "y": {"field": "ly", "type": "quantitative", "scale": {"domain": [-0.216, 4.521], "nice": false, "zero": false}, "axis": null},
  "text": {"field": "label"}
 }}
],
"resolve": {"axis": {"x": "independent", "y": "independent"}}
}
